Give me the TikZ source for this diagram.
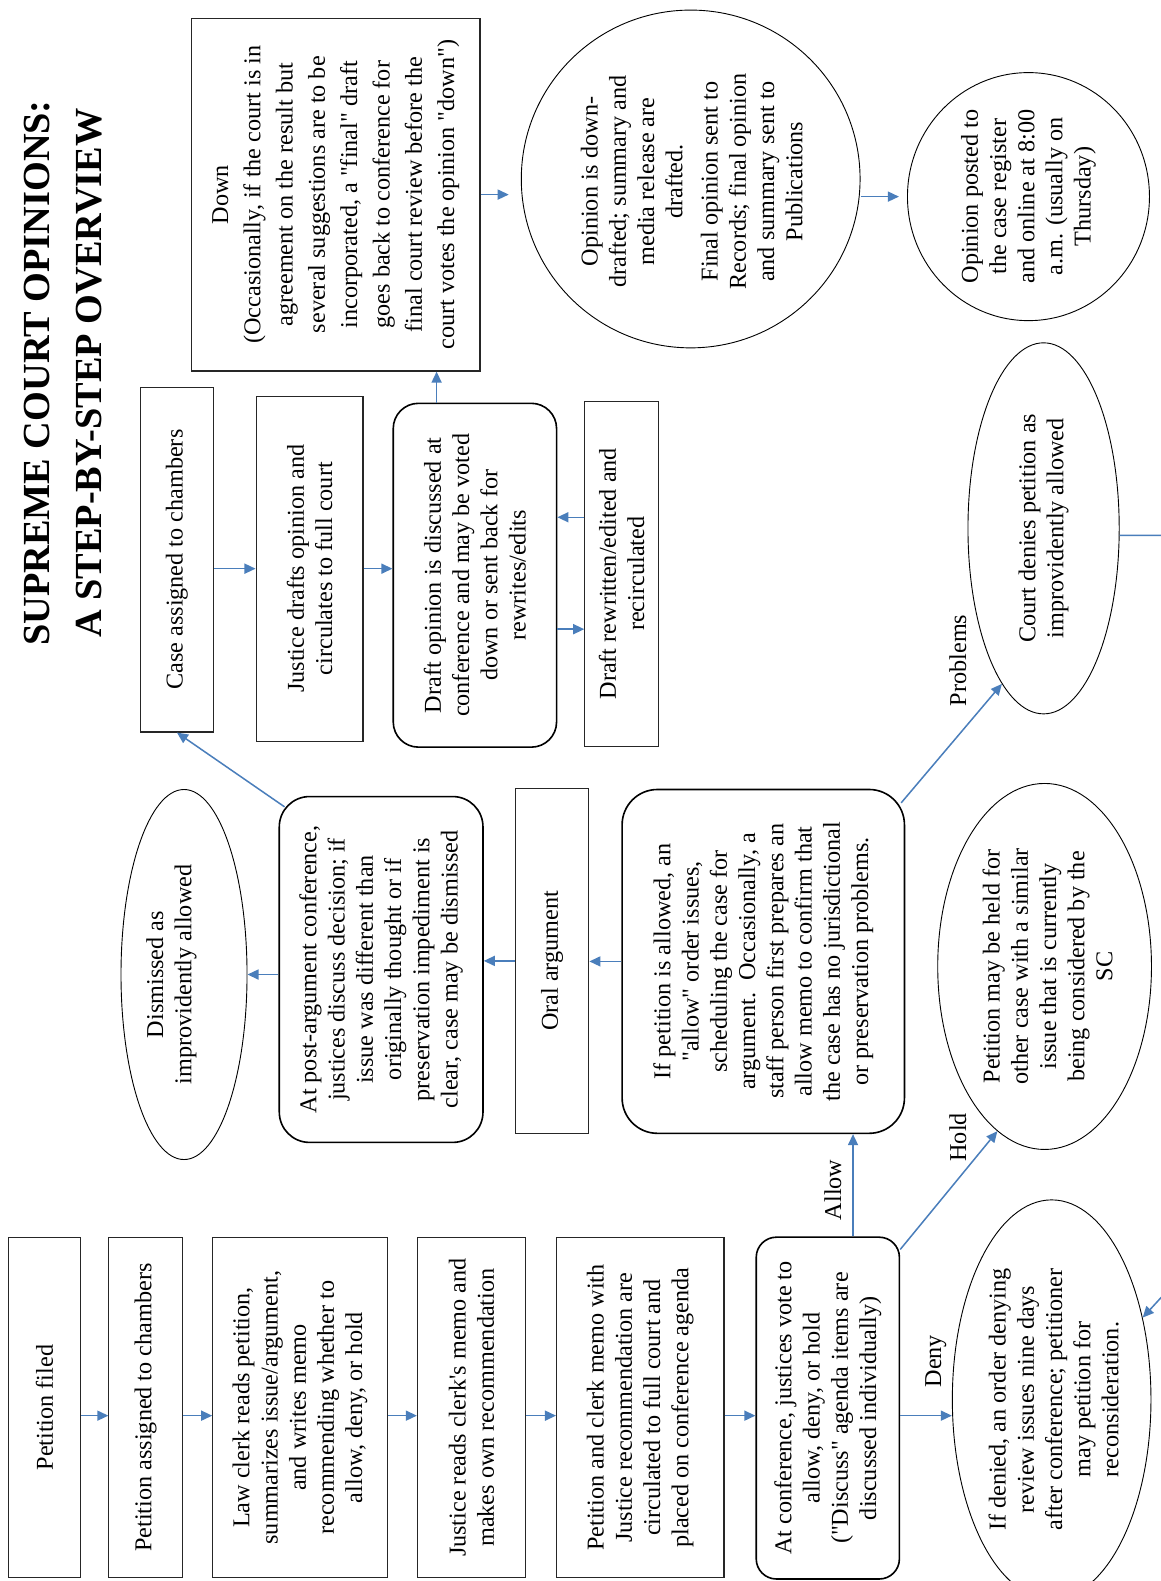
\documentclass[tikz,border=0pt]{standalone}
\usepackage{fontspec}
\setmainfont{Liberation Serif}
\usetikzlibrary{arrows.meta,shapes.geometric,calc}
\definecolor{arrblue}{HTML}{4A7EBB}
\newcommand{\qq}{\textquotedbl}
\begin{document}
\begin{tikzpicture}[x=1pt,y=-1pt,
  txt/.style={rotate=90, align=center, font=\fontsize{24}{28}\selectfont, inner sep=0pt},
  sz/.style 2 args={minimum height=#1, minimum width=#2},
  box/.style={txt, draw=black!85, line width=1.1pt, rectangle},
  rbox/.style={txt, draw=black, line width=1.6pt, rectangle, rounded corners=#1},
  rbox/.default=25pt,
  ell/.style={rotate=90, draw=black, line width=0.9pt, ellipse, inner sep=0pt},
  arr/.style={draw=arrblue, line width=1.5pt, -{Triangle[length=11pt,width=10pt]}},
  lbl/.style={rotate=90, font=\fontsize{24}{28}\selectfont, inner sep=0pt},
]
\useasboundingbox (0,0) rectangle (1151,1568);

% title
\node[rotate=90, align=center, inner sep=0pt, font=\fontsize{38}{51}\selectfont\bfseries] (title) at (62.5,370) {SUPREME COURT OPINIONS:\\A STEP-BY-STEP OVERVIEW};

% bottom row
\node[box, sz={72}{337}] (pf) at (44,1396) {Petition filed};
\node[box, sz={73}{337}] (pa) at (144.5,1396) {Petition assigned to chambers};
\node[box, sz={173}{337}] (lc) at (297.5,1396) {Law clerk reads petition,\\summarizes issue/argument,\\and writes memo\\recommending whether to\\allow, deny, or hold};
\node[box, sz={107}{337}] (jr) at (467.5,1396) {Justice reads clerk\textquotesingle s memo and\\makes own recommendation};
\node[box, sz={166}{337}] (pm) at (635,1396) {Petition and clerk memo with\\Justice recommendation are\\circulated to full court and\\placed on conference agenda};
\node[rbox=20pt, sz={142}{339}] (conf) at (821,1396.5) {At conference, justices vote to\\allow, deny, or hold\\(\qq Discuss\qq\ agenda items are\\discussed individually)};

\node[ell, sz={197}{396}] (deny) at (1043,1388) {};
\node[txt] (denyt) at (1045,1388) {If denied, an order denying\\review issues nine days\\after conference; petitioner\\may petition for\\reconsideration.};

% middle row
\node[ell, sz={125}{367}] (dism) at (182.5,966.5) {};
\node[txt] (dismt) at (170,966.5) {Dismissed as\\improvidently allowed};
\node[rbox=30pt, sz={202}{343}] (post) at (378,961.5) {At post-argument conference,\\justices discuss decision; if\\issue was different than\\originally thought or if\\preservation impediment is\\clear, case may be dismissed};
\node[box, sz={73}{342}] (oral) at (547.5,953) {Oral argument};
\node[rbox=35pt, sz={280}{341}] (allow) at (757,953.5) {If petition is allowed, an\\\qq allow\qq\ order issues,\\scheduling the case for\\argument.\ \ Occasionally, a\\staff person first prepares an\\allow memo to confirm that\\the case has no jurisdictional\\or preservation problems.};
\node[ell, sz={212}{363}] (hold) at (1036,958.5) {};
\node[txt] (holdt) at (1039,958.5) {Petition may be held for\\other case with a similar\\issue that is currently\\being considered by the\\SC};

% upper row
\node[box, sz={73}{342}] (ca) at (175.5,555) {Case assigned to chambers};
\node[box, sz={106}{342}] (jd) at (307,564) {Justice drafts opinion and\\circulates to full court};
\node[rbox=25pt, sz={162}{341}] (draft) at (471,570.5) {Draft opinion is discussed at\\conference and may be voted\\down or sent back for\\rewrites/edits};
\node[box, sz={73}{342}] (dr) at (616.5,569) {Draft rewritten/edited and\\recirculated};
\node[ell, sz={150}{368}] (cd) at (1035,524) {};
\node[txt] (cdt) at (1035,524) {Court denies petition as\\improvidently allowed};

% top row
\node[box, sz={286}{350}, font=\fontsize{24}{32}\selectfont] (down) at (333,193) {Down\\(Occasionally, if the court is in\\agreement on the result but\\several suggestions are to be\\incorporated, a \qq final\qq\ draft\\goes back to conference for\\final court review before the\\court votes the opinion \qq down\qq)};
\node[ell, sz={336}{335}] (op) at (685,177.5) {};
\node[txt] (opt) at (686,180) {Opinion is down-\\drafted; summary and\\media release are\\drafted.\\[7pt]Final opinion sent to\\Records; final opinion\\and summary sent to\\Publications};
\node[ell, sz={240}{246}] (posted) at (1020,195) {};
\node[txt] (postedt) at (1020,195) {Opinion posted to\\the case register\\and online at 8:00\\a.m. (usually on\\Thursday)};

% labels
\node[lbl] (lallow) at (826,1180) {Allow};
\node[lbl] (lhold) at (950,1128) {Hold};
\node[lbl] (ldeny) at (928,1350) {Deny};
\node[lbl] (lprob) at (950,655) {Problems};

% connectors
\coordinate (rowA) at (0,1404);
\draw[arr] (pf.south |- rowA) -- (pa.north |- rowA);
\draw[arr] (pa.south |- rowA) -- (lc.north |- rowA);
\draw[arr] (lc.south |- rowA) -- (jr.north |- rowA);
\draw[arr] (jr.south |- rowA) -- (pm.north |- rowA);
\draw[arr] (pm.south |- rowA) -- (conf.north |- rowA);
\draw[arr] (conf.south |- rowA) -- (deny.north |- rowA);

\coordinate (ax) at (846,0);
\draw[arr] (conf.east -| ax) -- (allow.west -| ax);
\draw[arr] ($(conf.south east)+(0,13)$) -- (hold.164);
\draw[arr] ($(allow.south east)+(-4,14)$) -- (cd.165);

\draw[arr] (allow.north) -- (oral.south |- allow.north);
\draw[arr] (oral.north) -- (post.south |- oral.north);
\draw[arr] (post.north |- dism) -- (dism.south);
\draw[arr] ($(post.north east)+(6,11)$) -- (ca.west);

\draw[arr] (ca.south |- jd) -- (jd.north);
\draw[arr] (jd.south) -- (draft.north |- jd.south);
\coordinate (rwA) at (0,513);
\coordinate (rwB) at (0,624);
\draw[arr] (dr.north |- rwA) -- (draft.south |- rwA);
\draw[arr] (draft.south |- rwB) -- (dr.north |- rwB);
\coordinate (dx) at (433,0);
\draw[arr] (draft.east -| dx) -- (down.west -| dx);
\draw[arr, shorten >=12pt] (down.south) -- (op.north |- down.south);
\draw[arr, shorten >=8pt] (op.south |- posted) -- (posted.north);

\coordinate (cdy) at (0,531);
\coordinate (ext1) at (1190,0);
\coordinate (ext2) at (1190,1245);
\draw[arr] (cd.south |- cdy) -- (ext1 |- cdy) -- (ext2) -- (deny.-48);
\end{tikzpicture}
\end{document}
